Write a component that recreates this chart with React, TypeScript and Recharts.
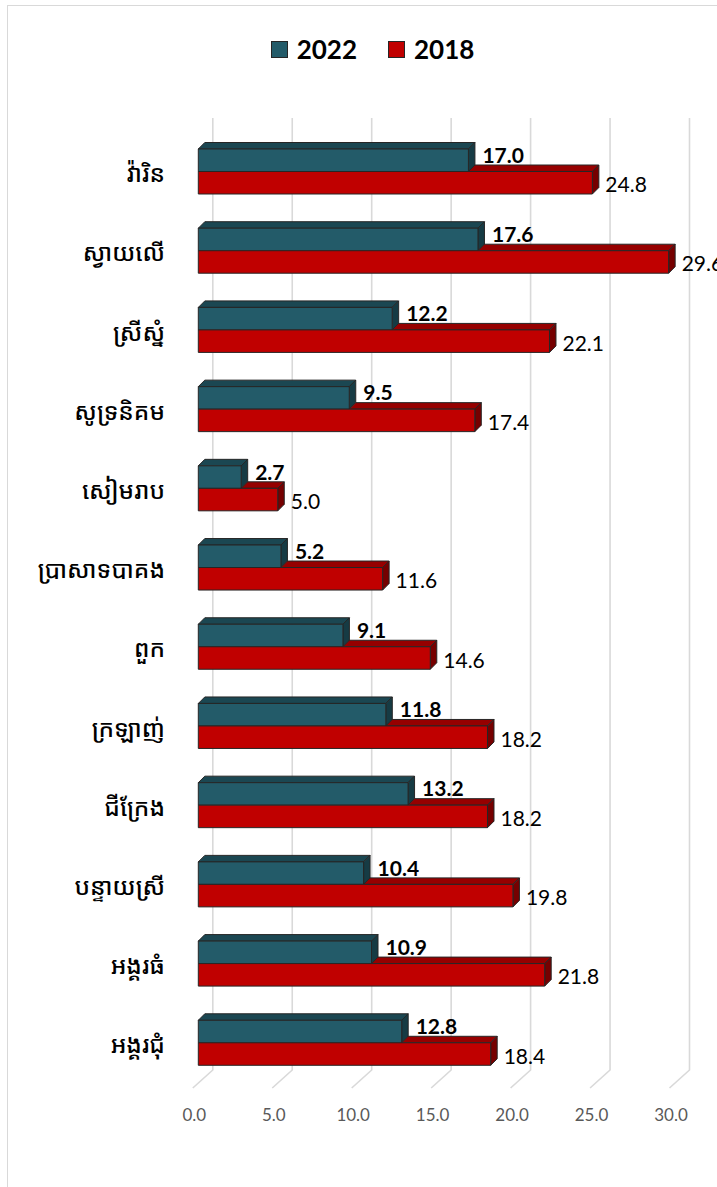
import { BarChart, Bar, XAxis, YAxis, CartesianGrid, Legend, LabelList } from "recharts";

// Siem Reap districts, top to bottom
const districts = [
  "វ៉ារិន",
  "ស្វាយលើ",
  "ស្រីស្នំ",
  "សូទ្រនិគម",
  "សៀមរាប",
  "ប្រាសាទបាគង",
  "ពួក",
  "ក្រឡាញ់",
  "ជីក្រែង",
  "បន្ទាយស្រី",
  "អង្គរធំ",
  "អង្គរជុំ",
];
const values2022 = [17.0, 17.6, 12.2, 9.5, 2.7, 5.2, 9.1, 11.8, 13.2, 10.4, 10.9, 12.8];
const values2018 = [24.8, 29.6, 22.1, 17.4, 5.0, 11.6, 14.6, 18.2, 18.2, 19.8, 21.8, 18.4];
const xTicks = [0, 5, 10, 15, 20, 25, 30];
const legendOrder = ["y2022", "y2018"];

const data = districts.map((name, i) => ({ name, y2022: values2022[i], y2018: values2018[i] }));

const TEAL = "#235B69";
const TEAL_TOP = "#1B4752";
const TEAL_SIDE = "#163B44";
const RED = "#C00000";
const RED_TOP = "#960000";
const RED_SIDE = "#760000";
const EDGE = "#262626";
const DEPTH = 6.5;
const LATIN = "Lato, 'Open Sans', sans-serif";
const KHMER = "'Noto Sans Khmer', 'Khmer OS', 'Khmer OS System', 'Noto Serif Khmer', sans-serif";

function TealBox(props: any) {
  const { x, y, width, height } = props;
  const d = DEPTH;
  return (
    <g stroke={EDGE} strokeWidth={1} strokeLinejoin="round">
      <polygon points={`${x},${y} ${x + d},${y - d} ${x + width + d},${y - d} ${x + width},${y}`} fill={TEAL_TOP} />
      <polygon
        points={`${x + width},${y} ${x + width + d},${y - d} ${x + width + d},${y + height - d} ${x + width},${y + height}`}
        fill={TEAL_SIDE}
      />
      <rect x={x} y={y} width={width} height={height} fill={TEAL} />
    </g>
  );
}

// red bar sits behind the teal one, so only the part of its top beyond the teal bar shows
function RedBox(props: any) {
  const { x, y, width, height, payload } = props;
  const d = DEPTH;
  const tw = payload.y2018 ? (width * payload.y2022) / payload.y2018 : 0;
  const s = x + Math.min(tw, width);
  return (
    <g stroke={EDGE} strokeWidth={1} strokeLinejoin="round">
      <polygon points={`${s},${y} ${s + d},${y - d} ${x + width + d},${y - d} ${x + width},${y}`} fill={RED_TOP} />
      <polygon
        points={`${x + width},${y} ${x + width + d},${y - d} ${x + width + d},${y + height - d} ${x + width},${y + height}`}
        fill={RED_SIDE}
      />
      <rect x={x} y={y} width={width} height={height} fill={RED} />
    </g>
  );
}

// 3D wall gridline: back vertical plus the slanted floor segment
function GridLine(props: any) {
  const { x1, y1, y2 } = props;
  return (
    <path
      key={props.key}
      d={`M${x1 + 14.5},${y1 - 14} L${x1 + 14.5},${y2 - 12.5} L${x1 - 5.5},${y2 + 5.5}`}
      fill="none"
      stroke="#D9D9D9"
      strokeWidth={1.6}
    />
  );
}

function XTick(props: any) {
  const { x, y, payload } = props;
  return (
    <text x={x - 4} y={y + 36} textAnchor="middle" fontFamily={LATIN} fontSize={17} fill="#595959">
      {Number(payload.value).toFixed(1)}
    </text>
  );
}

function YTick(props: any) {
  const { y, payload } = props;
  return (
    <text
      x={165}
      y={y + 1}
      textAnchor="end"
      dominantBaseline="central"
      fontFamily={KHMER}
      fontSize={24}
      fontWeight={500}
      fill="#000"
    >
      {payload.value}
    </text>
  );
}

function LegendBox(props: any) {
  const items = [...(props.payload || [])].sort(
    (a: any, b: any) => legendOrder.indexOf(a.dataKey) - legendOrder.indexOf(b.dataKey)
  );
  return (
    <div style={{ display: "flex", justifyContent: "center", paddingLeft: 28, gap: 31 }}>
      {items.map((item: any) => (
        <div key={item.value} style={{ display: "flex", alignItems: "center", gap: 9 }}>
          <span
            style={{
              display: "inline-block",
              width: 15,
              height: 15,
              background: item.color,
              border: "1.5px solid #262626",
            }}
          />
          <span style={{ fontFamily: LATIN, fontWeight: 700, fontSize: 26, color: "#000", lineHeight: "30px" }}>
            {item.value}
          </span>
        </div>
      ))}
    </div>
  );
}

export default function App() {
  return (
    <div style={{ position: "absolute", left: 0, top: 0, width: 717, height: 1187, overflow: "hidden", background: "#fff" }}>
      <div
        style={{
          position: "absolute",
          left: 7,
          top: 5,
          width: 800,
          height: 1300,
          border: "1.5px solid #D9D9D9",
          boxSizing: "border-box",
        }}
      />
      <BarChart
        width={717}
        height={1187}
        data={data}
        layout="vertical"
        margin={{ top: 132, right: 42, bottom: 74.5, left: 0 }}
        barSize={22.5}
        barGap={0}
      >
        <CartesianGrid horizontal={false} vertical={GridLine} />
        <XAxis
          type="number"
          domain={[0, 30]}
          ticks={xTicks}
          axisLine={false}
          tickLine={false}
          tickSize={0}
          tick={XTick}
          interval={0}
        />
        <YAxis
          type="category"
          dataKey="name"
          width={198.3}
          axisLine={false}
          tickLine={false}
          tick={YTick}
          interval={0}
        />
        <Legend
          layout="horizontal"
          verticalAlign="middle"
          align="center"
          wrapperStyle={{ top: 34, left: 0, width: 717 }}
          content={LegendBox}
        />
        <Bar dataKey="y2022" name="2022" fill={TEAL} shape={TealBox} isAnimationActive={false}>
          <LabelList
            dataKey="y2022"
            content={(p: any) => (
              <text
                x={p.x + p.width + 14}
                y={p.y + p.height / 2 + 2.5}
                fontFamily={LATIN}
                fontWeight={700}
                fontSize={21}
                fill="#000"
              >
                {Number(p.value).toFixed(1)}
              </text>
            )}
          />
        </Bar>
        <Bar dataKey="y2018" name="2018" fill={RED} shape={RedBox} isAnimationActive={false}>
          <LabelList
            dataKey="y2018"
            content={(p: any) => (
              <text x={p.x + p.width + 13} y={p.y + p.height / 2 + 9.5} fontFamily={LATIN} fontSize={21} fill="#000">
                {Number(p.value).toFixed(1)}
              </text>
            )}
          />
        </Bar>
      </BarChart>
    </div>
  );
}
